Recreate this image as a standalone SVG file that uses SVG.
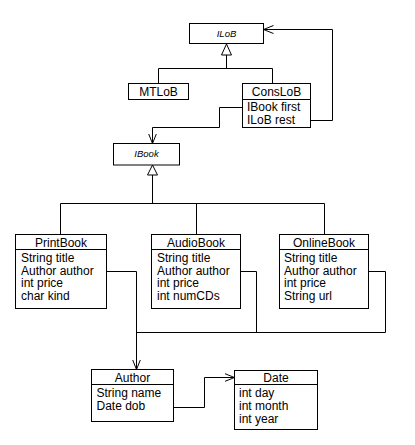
<svg xmlns="http://www.w3.org/2000/svg" width="415" height="445" viewBox="0 0 415 445">
<style>
.box{fill:#fff;stroke:#000;stroke-width:1}
.sep{stroke:#000;stroke-width:1}
.t{font-family:"Liberation Sans",Arial,sans-serif;font-size:12px;fill:#000}
.c{text-anchor:middle}
.i{font-style:italic;font-size:9.5px}
.ln{fill:none;stroke:#000;stroke-width:1}
.tri{fill:#fff;stroke:#000;stroke-width:1}
</style>
<defs>
<marker id="open" viewBox="0 0 10 10" refX="10" refY="5" markerWidth="10" markerHeight="10" markerUnits="userSpaceOnUse" orient="auto">
<path d="M0,1 L10,5 L0,9" fill="none" stroke="#000" stroke-width="1"/>
</marker>
</defs>
<g id="connectors">
<path class="ln" d="M226.5,55 V68.5 M158.5,68.5 H272.5 M158.5,68.5 V83.5 M272.5,68.5 V83.5"/>
<polygon class="tri" points="226.5,44 221.5,55 231.5,55"/>
<path class="ln" d="M310.5,120.5 H332.5 V29.5 H263.5" marker-end="url(#open)"/>
<path class="ln" d="M242.5,107.5 H219.5 V127.5 H152.5 V143.5" marker-end="url(#open)"/>
<path class="ln" d="M152.5,175 V203.5 M60.5,203.5 H324.5 M60.5,203.5 V234.5 M196.5,203.5 V234.5 M324.5,203.5 V234.5"/>
<polygon class="tri" points="152.5,165 147.5,175 157.5,175"/>
<path class="ln" d="M106.5,271.5 H136.5 V369.5" marker-end="url(#open)"/>
<path class="ln" d="M240.5,271.5 H256.5 V332.5"/>
<path class="ln" d="M368.5,271.5 H385.5 V332.5 H136.5"/>
<path class="ln" d="M173.5,407.5 H204.5 V377.5 H234.5" marker-end="url(#open)"/>
</g>
<g id="ILoB">
<rect class="box" x="189.5" y="23.5" width="74" height="20"/>
<text class="t c i" x="226.5" y="36.5">ILoB</text>
</g>
<g id="MTLoB">
<rect class="box" x="128.5" y="83.5" width="60" height="16"/>
<text class="t c" x="158.5" y="96">MTLoB</text>
</g>
<g id="ConsLoB">
<rect class="box" x="242.5" y="83.5" width="68" height="44"/>
<line class="sep" x1="242.5" y1="99.5" x2="310.5" y2="99.5"/>
<text class="t c" x="276.5" y="96">ConsLoB</text>
<text class="t" x="247" y="111">IBook first</text>
<text class="t" x="247" y="124">ILoB rest</text>
</g>
<g id="IBook">
<rect class="box" x="113.5" y="143.5" width="66" height="21.5"/>
<text class="t c i" x="146.5" y="156.5">IBook</text>
</g>
<g id="PrintBook">
<rect class="box" x="15.5" y="234.5" width="91" height="74"/>
<line class="sep" x1="15.5" y1="249.5" x2="106.5" y2="249.5"/>
<text class="t c" x="61" y="247">PrintBook</text>
<text class="t" x="21" y="262">String title</text>
<text class="t" x="21" y="274.5">Author author</text>
<text class="t" x="21" y="287">int price</text>
<text class="t" x="21" y="299.5">char kind</text>
</g>
<g id="AudioBook">
<rect class="box" x="151.5" y="234.5" width="89" height="74"/>
<line class="sep" x1="151.5" y1="249.5" x2="240.5" y2="249.5"/>
<text class="t c" x="196" y="247">AudioBook</text>
<text class="t" x="157" y="262">String title</text>
<text class="t" x="157" y="274.5">Author author</text>
<text class="t" x="157" y="287">int price</text>
<text class="t" x="157" y="299.5">int numCDs</text>
</g>
<g id="OnlineBook">
<rect class="box" x="279.5" y="234.5" width="89" height="74"/>
<line class="sep" x1="279.5" y1="249.5" x2="368.5" y2="249.5"/>
<text class="t c" x="324" y="247">OnlineBook</text>
<text class="t" x="284" y="262">String title</text>
<text class="t" x="284" y="274.5">Author author</text>
<text class="t" x="284" y="287">int price</text>
<text class="t" x="284" y="299.5">String url</text>
</g>
<g id="Author">
<rect class="box" x="91.5" y="369.5" width="82" height="52"/>
<line class="sep" x1="91.5" y1="384.5" x2="173.5" y2="384.5"/>
<text class="t c" x="132.5" y="382">Author</text>
<text class="t" x="96.5" y="397">String name</text>
<text class="t" x="96.5" y="410">Date dob</text>
</g>
<g id="Date">
<rect class="box" x="234.5" y="370.5" width="83" height="59"/>
<line class="sep" x1="234.5" y1="384.5" x2="317.5" y2="384.5"/>
<text class="t c" x="276" y="382">Date</text>
<text class="t" x="239" y="397">int day</text>
<text class="t" x="239" y="410">int month</text>
<text class="t" x="239" y="422.5">int year</text>
</g>
</svg>
